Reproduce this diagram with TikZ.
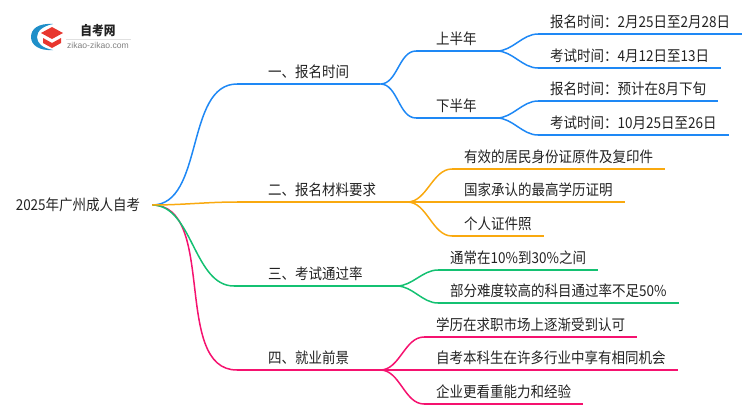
\documentclass[tikz,border=0pt]{standalone}
\usepackage{fontspec}
\setmainfont[FakeStretch=0.9]{Noto Sans CJK SC}
\setsansfont{Liberation Sans}
\definecolor{lineblue}{HTML}{1E88F5}
\definecolor{lineorange}{HTML}{F9A90F}
\definecolor{linegreen}{HTML}{14C172}
\definecolor{linepink}{HTML}{F5126F}
\definecolor{inkgray}{HTML}{222222}
\definecolor{logored}{HTML}{E8372F}
\definecolor{logoblue}{HTML}{1F8FC9}
\tikzstyle{topic} = [anchor=south west, inner xsep=31pt, inner ysep=3pt, text=inkgray, font=\fontsize{15}{16}\selectfont, text height=12pt, text depth=3pt]
\tikzstyle{half} = [topic, inner xsep=20pt]
\tikzstyle{leaf} = [topic, inner xsep=12pt]
\tikzstyle{link} = [line width=1.5pt, out=0, in=180, looseness=0.9]
\tikzstyle{rule} = [line width=1.5pt]
\begin{document}
\begin{tikzpicture}[x=1pt, y=-1pt]
    \useasboundingbox (0,0) rectangle (750,410);

    % logo
    \fill [logoblue] (53,24) .. controls (38,23) and (31,29) .. (31,37) .. controls (31,45) and (39,51) .. (53,50) .. controls (42,48) and (37,43) .. (37,37) .. controls (37,31) and (43,26) .. (53,24) -- cycle;
    \fill [logored] (52,27) -- (63,33) -- (52,39) -- (41,33) -- cycle;
    \fill [logored] (43,38) -- (52,43) -- (61,38) -- (61,43) -- (52,48) -- (43,43) -- cycle;
    \node (logoname) at (98,31) [text=inkgray, font=\fontsize{13}{14}\selectfont\bfseries, inner sep=0pt] {自考网};
    \node (logourl) at (98,45) [text=gray, font=\sffamily\fontsize{8.6}{9}\selectfont, inner sep=0pt] {zikao-zikao.com};
    \draw [black!12, line width=0.5pt] (66,39) -- (131,39);

    % nodes
    \node (root) at (78,205) [text=inkgray, font=\fontsize{15}{16}\selectfont, minimum width=148pt, inner sep=0pt] {2025年广州成人自考};

    \node (signup) at (237,84) [topic] {一、报名时间};
    \node (firsthalf) at (416,51) [half] {上半年};
    \node (secondhalf) at (416,118) [half] {下半年};
    \node (firstreg) at (538,34) [leaf] {报名时间：2月25日至2月28日};
    \node (firstexam) at (538,68) [leaf] {考试时间：4月12日至13日};
    \node (secondreg) at (538,101) [leaf] {报名时间：预计在8月下旬};
    \node (secondexam) at (538,135) [leaf] {考试时间：10月25日至26日};

    \node (material) at (237,202) [topic] {二、报名材料要求};
    \node (idcard) at (452,169) [leaf] {有效的居民身份证原件及复印件};
    \node (diploma) at (452,202) [leaf] {国家承认的最高学历证明};
    \node (papers) at (452,236) [leaf] {个人证件照};

    \node (passrate) at (234,286) [topic, inner xsep=34pt] {三、考试通过率};
    \node (usual) at (438,270) [leaf] {通常在10\%到30\%之间};
    \node (hard) at (438,303) [leaf] {部分难度较高的科目通过率不足50\%};

    \node (career) at (237,370) [topic] {四、就业前景};
    \node (degree) at (424,337) [leaf] {学历在求职市场上逐渐受到认可};
    \node (chance) at (424,370) [leaf] {自考本科生在许多行业中享有相同机会};
    \node (ability) at (424,404) [leaf] {企业更看重能力和经验};

    % underlines
    \foreach \n in {signup, firsthalf, secondhalf, firstreg, firstexam, secondreg, secondexam}
        \draw [rule, lineblue] (\n.south west) -- (\n.south east);
    \foreach \n in {material, idcard, diploma, papers}
        \draw [rule, lineorange] (\n.south west) -- (\n.south east);
    \foreach \n in {passrate, usual, hard}
        \draw [rule, linegreen] (\n.south west) -- (\n.south east);
    \foreach \n in {career, degree, chance, ability}
        \draw [rule, linepink] (\n.south west) -- (\n.south east);

    % connectors
    \draw [link, lineblue] (root.east) to (signup.south west);
    \draw [link, linepink] (root.east) to (career.south west);
    \draw [link, linegreen] (root.east) to (passrate.south west);
    \draw [link, lineorange] (root.east) to (material.south west);

    \draw [link, lineblue] (signup.south east) to (firsthalf.south west);
    \draw [link, lineblue] (signup.south east) to (secondhalf.south west);
    \draw [link, lineblue] (firsthalf.south east) to (firstreg.south west);
    \draw [link, lineblue] (firsthalf.south east) to (firstexam.south west);
    \draw [link, lineblue] (secondhalf.south east) to (secondreg.south west);
    \draw [link, lineblue] (secondhalf.south east) to (secondexam.south west);

    \draw [link, lineorange] (material.south east) to (idcard.south west);
    \draw [link, lineorange] (material.south east) to (diploma.south west);
    \draw [link, lineorange] (material.south east) to (papers.south west);

    \draw [link, linegreen] (passrate.south east) to (usual.south west);
    \draw [link, linegreen] (passrate.south east) to (hard.south west);

    \draw [link, linepink] (career.south east) to (degree.south west);
    \draw [link, linepink] (career.south east) to (chance.south west);
    \draw [link, linepink] (career.south east) to (ability.south west);

\end{tikzpicture}
\end{document}
